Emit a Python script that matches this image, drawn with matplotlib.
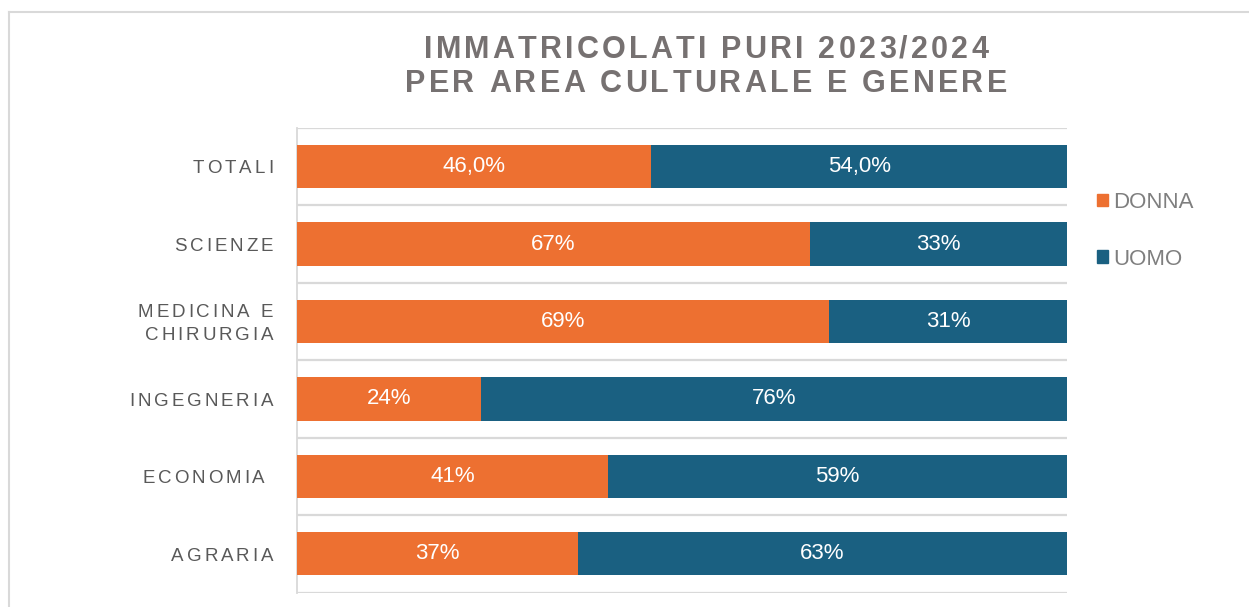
import matplotlib
matplotlib.use("Agg")
import matplotlib.pyplot as plt
from matplotlib.patches import Patch
from matplotlib.lines import Line2D
from matplotlib.transforms import IdentityTransform
from matplotlib.font_manager import FontProperties, findfont, get_font

# ---- data ----
categories = ["TOTALI", "SCIENZE", "MEDICINA E\nCHIRURGIA", "INGEGNERIA", "ECONOMIA ", "AGRARIA"]
donna = [46.0, 66.6, 69.1, 23.9, 40.4, 36.5]
uomo = [54.0, 33.4, 30.9, 76.1, 59.6, 63.5]
donna_labels = ["46,0%", "67%", "69%", "24%", "41%", "37%"]
uomo_labels = ["54,0%", "33%", "31%", "76%", "59%", "63%"]
series_names = ["DONNA", "UOMO"]
title_lines = ["IMMATRICOLATI PURI 2023/2024", "PER AREA CULTURALE E GENERE"]

ORANGE = "#ED7031"
BLUE = "#1A6081"
GRID = "#D9D9D9"
W, H = 1249, 607
DPI = 100

plt.rcParams["font.family"] = ["Liberation Sans", "DejaVu Sans"]

fig = plt.figure(figsize=(W / DPI, H / DPI), dpi=DPI)
ax = fig.add_axes([297 / W, 1 - 592.5 / H, (1067 - 297) / W, (592.5 - 128) / H])

y = list(range(len(categories)))
b1 = ax.barh(y, donna, height=0.56, color=ORANGE, zorder=3, label=series_names[0])
b2 = ax.barh(y, uomo, left=donna, height=0.56, color=BLUE, zorder=3, label=series_names[1])
ax.bar_label(b1, labels=donna_labels, label_type="center", color="white", fontsize=16)
ax.bar_label(b2, labels=uomo_labels, label_type="center", color="white", fontsize=16)

ax.set_xlim(0, 100)
ax.set_ylim(len(categories) - 0.5, -0.5)
ax.set_yticks([i - 0.5 for i in range(len(categories) + 1)], minor=True)
ax.set_yticks([])
ax.set_xticks([])
ax.grid(True, which="minor", axis="y", color=GRID, lw=1.6, zorder=0)
ax.tick_params(which="both", length=0)
for s in ["top", "right", "bottom"]:
    ax.spines[s].set_visible(False)
ax.spines["left"].set_color(GRID)
ax.spines["left"].set_linewidth(1.3)


def spaced_text(x, ybase, s, size, spacing, ha, color, weight="normal"):
    prop = FontProperties(family="Liberation Sans", size=size, weight=weight)
    font = get_font(findfont(prop))
    font.set_size(size, DPI)
    adv = []
    for ch in s:
        g = font.load_char(ord(ch))
        adv.append(g.linearHoriAdvance / 65536)
    total = sum(adv) + spacing * (len(s) - 1)
    if ha == "center":
        x0 = x - total / 2
    elif ha == "right":
        x0 = x - total
    else:
        x0 = x
    cx = x0
    for ch, a in zip(s, adv):
        fig.text(cx, ybase, ch, transform=IdentityTransform(), fontproperties=prop,
                 color=color, ha="left", va="baseline")
        cx += a + spacing


# title
spaced_text(706, H - 57.5, title_lines[0], 22, 3.2, "center", "#767171", "bold")
spaced_text(706, H - 92.5, title_lines[1], 22, 3.2, "center", "#767171", "bold")

# category labels
fig.canvas.draw()
cap = 13.5 * DPI / 72 * 0.716
line_h = 13.5 * DPI / 72 * 1.25
for i, lab in enumerate(categories):
    yc = ax.transData.transform((0, i))[1]
    lines = lab.split("\n")
    n = len(lines)
    for j, ln in enumerate(lines):
        yb = yc - cap / 2 + (n - 1) / 2 * line_h - j * line_h
        spaced_text(273, yb, ln, 13.5, 2.9, "right", "#595959")

# legend
handles = [Patch(color=ORANGE, label=series_names[0]), Patch(color=BLUE, label=series_names[1])]
leg = fig.legend(handles=handles, loc="upper left", bbox_to_anchor=(1097 / W, 1 - 192 / H),
                 frameon=False, fontsize=16, handlelength=0.5, handleheight=0.5,
                 handletextpad=0.22, labelspacing=1.6, borderpad=0, borderaxespad=0)
for t in leg.get_texts():
    t.set_color("#7F7F7F")

# outer border
fig.add_artist(Line2D([9 / W, 1], [1 - 12 / H, 1 - 12 / H], color=GRID, lw=1.5, transform=fig.transFigure))
fig.add_artist(Line2D([9 / W, 9 / W], [0, 1 - 12 / H], color=GRID, lw=1.5, transform=fig.transFigure))

fig.savefig("out.png", dpi=DPI)
